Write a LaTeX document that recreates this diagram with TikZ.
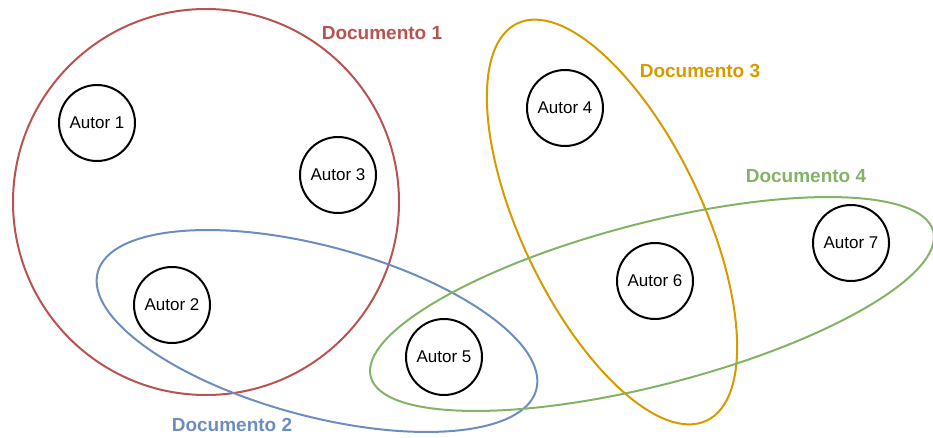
\documentclass[tikz,border=0pt]{standalone}
\usepackage{fontspec}
\setmainfont{Liberation Sans}
\definecolor{docred}{HTML}{B85450}
\definecolor{docblue}{HTML}{6C8EBF}
\definecolor{docorange}{HTML}{D79B00}
\definecolor{docgreen}{HTML}{82B366}
\begin{document}
\begin{tikzpicture}[x=1pt, y=1pt, line join=round, line cap=round]
  \tikzset{autor/.style={circle, draw, line width=2pt, minimum size=76pt, inner sep=0pt, font=\fontsize{17}{19}\selectfont},
           doc/.style={font=\fontsize{19}{21}\selectfont\bfseries},
           conj/.style={line width=2pt}}
  \useasboundingbox (0,0) rectangle (933,437);
  % documentos
  \draw[conj, docred] (206,235) circle (193);
  \draw[conj, docblue, rotate around={-15:(317,106)}] (317,106) ellipse [x radius=227, y radius=85];
  \draw[conj, docorange, rotate around={25.5:(612,215)}] (612,215) ellipse [x radius=90.6, y radius=220];
  \draw[conj, docgreen, rotate around={14.5:(652,133)}] (652,133) ellipse [x radius=290.5, y radius=81];
  % autores
  \node[autor] (a1) at (97,314) {Autor 1};
  \node[autor] (a2) at (172,132) {Autor 2};
  \node[autor] (a3) at (338,262) {Autor 3};
  \node[autor] (a4) at (565,329) {Autor 4};
  \node[autor] (a5) at (444,80) {Autor 5};
  \node[autor] (a6) at (655,156) {Autor 6};
  \node[autor] (a7) at (851,194) {Autor 7};
  % rotulos
  \node[doc, docred] (d1) at (382,404) {Documento 1};
  \node[doc, docblue] (d2) at (232,12) {Documento 2};
  \node[doc, docorange] (d3) at (700,366) {Documento 3};
  \node[doc, docgreen] (d4) at (806,261) {Documento 4};
\end{tikzpicture}
\end{document}
